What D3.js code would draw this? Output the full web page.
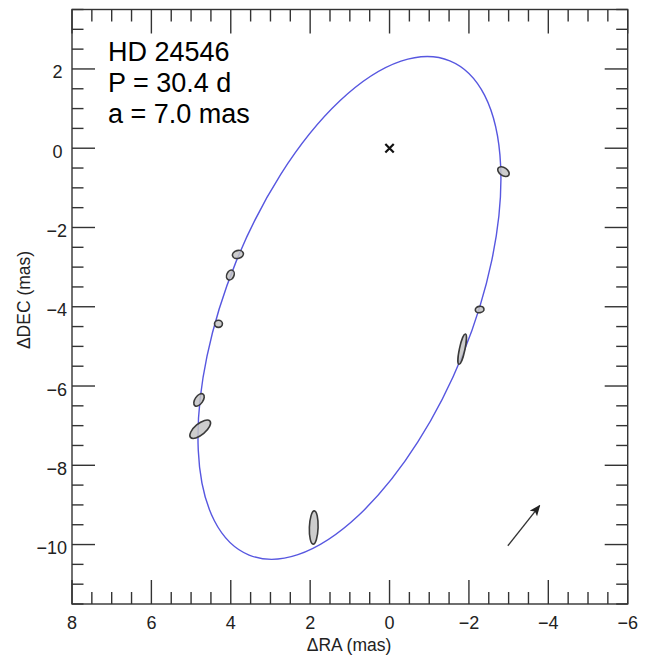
<!DOCTYPE html>
<html>
<head>
<meta charset="utf-8">
<script src="https://cdn.jsdelivr.net/npm/d3@7"></script>
<style>
  html, body { margin: 0; padding: 0; background: #fff; }
  svg { display: block; }
  text { font-family: "Liberation Sans", Arial, sans-serif; }
</style>
</head>
<body>
<svg id="chart" width="646" height="659"></svg>
<script>
// Relative astrometric orbit of HD 24546 (offsets in milliarcseconds)

// Axis ticks
const raTicks = [8, 6, 4, 2, 0, -2, -4, -6];
const decTicks = [2, 0, -2, -4, -6, -8, -10];

// Labels printed in the upper-left corner
const infoLines = ["HD 24546", "P = 30.4 d", "a = 7.0 mas"];

// Fitted apparent orbit (projected ellipse): centre, semi-axes (mas), PA of major axis (deg E of N)
const orbitCentreRA = 1.01;
const orbitCentreDEC = -4.03;
const orbitSemiMajor = 6.72;
const orbitSemiMinor = 3.09;
const orbitPA = 157.9;

// Measured positions with error ellipses
const obsRA    = [-2.87, -2.27, -1.83,  1.91,  4.77,  4.80,  4.31,  4.01,  3.82];
const obsDEC   = [-0.59, -4.07, -5.07, -9.57, -7.09, -6.35, -4.43, -3.20, -2.68];
const errMajor = [ 0.16,  0.11,  0.39,  0.42,  0.32,  0.18,  0.10,  0.13,  0.14];
const errMinor = [ 0.10,  0.08,  0.07,  0.11,  0.14,  0.10,  0.09,  0.09,  0.10];
const errPA    = [   55,   100,   168,   178,   130,   145,    90,   155,   105];

// Direction-of-motion arrow
const arrowFrom = [-2.98, -10.03];
const arrowTo   = [-3.78, -9.02];

const svg = d3.select("#chart");
const plotL = 72, plotR = 627.7, plotT = 9.5, plotB = 604;

const x = d3.scaleLinear().domain([8, -6]).range([plotL, plotR]);
const y = d3.scaleLinear().domain([-11.5, 3.5]).range([plotB, plotT]);
const kx = Math.abs(x(1) - x(0));
const ky = Math.abs(y(1) - y(0));

const axisColor = "#333";

// Minor ticks every 0.5 mas, majors at labelled values
const raMinor = d3.range(-6, 8.001, 0.5);
const decMinor = d3.range(-11.5, 3.501, 0.5);

const gAx = svg.append("g").attr("stroke", axisColor).attr("stroke-width", 1.4).attr("fill", "none");

function isMajor(v, list) { return list.some(t => Math.abs(t - v) < 1e-6); }

// bottom and top ticks
raMinor.forEach(v => {
  const len = isMajor(v, raTicks) ? 24 : 12;
  const px = x(v);
  gAx.append("line").attr("x1", px).attr("x2", px).attr("y1", plotB).attr("y2", plotB - len);
  gAx.append("line").attr("x1", px).attr("x2", px).attr("y1", plotT).attr("y2", plotT + len);
});
// left and right ticks
decMinor.forEach(v => {
  const len = isMajor(v, decTicks) ? 23 : 11.5;
  const py = y(v);
  gAx.append("line").attr("x1", plotL).attr("x2", plotL + len).attr("y1", py).attr("y2", py);
  gAx.append("line").attr("x1", plotR).attr("x2", plotR - len).attr("y1", py).attr("y2", py);
});
// frame
gAx.append("rect").attr("x", plotL).attr("y", plotT)
  .attr("width", plotR - plotL).attr("height", plotB - plotT);

const fmt = d3.format("d");

// tick labels
svg.append("g").selectAll("text").data(raTicks).join("text")
  .attr("x", d => x(d)).attr("y", 629)
  .attr("text-anchor", "middle")
  .attr("font-size", 18).attr("fill", "#222")
  .text(d => fmt(d));

svg.append("g").selectAll("text").data(decTicks).join("text")
  .attr("x", d => d < 0 ? 67 : 62.5).attr("y", d => y(d) + 9.5)
  .attr("text-anchor", "end")
  .attr("font-size", 18).attr("fill", "#222")
  .text(d => fmt(d));

// axis titles
svg.append("text").attr("x", 349).attr("y", 651)
  .attr("text-anchor", "middle").attr("font-size", 17.5).attr("fill", "#222")
  .text("ΔRA (mas)");
svg.append("text")
  .attr("transform", "translate(30,300) rotate(-90)")
  .attr("text-anchor", "middle").attr("font-size", 17.5).attr("fill", "#222")
  .text("ΔDEC (mas)");

// apparent orbit
function rotFromPA(pa) { return -(pa + 90); }
svg.append("ellipse")
  .attr("cx", 0).attr("cy", 0)
  .attr("rx", orbitSemiMajor * kx).attr("ry", orbitSemiMinor * ky)
  .attr("transform", `translate(${x(orbitCentreRA)},${y(orbitCentreDEC)}) rotate(${rotFromPA(orbitPA)})`)
  .attr("fill", "none").attr("stroke", "#5757e0").attr("stroke-width", 1.4);

// error ellipses of measurements
const obs = obsRA.map((ra, i) => ({ ra, dec: obsDEC[i], a: errMajor[i], b: errMinor[i], pa: errPA[i] }));
svg.append("g").selectAll("ellipse").data(obs).join("ellipse")
  .attr("cx", 0).attr("cy", 0)
  .attr("rx", d => d.a * kx).attr("ry", d => d.b * ky)
  .attr("transform", d => `translate(${x(d.ra)},${y(d.dec)}) rotate(${rotFromPA(d.pa)})`)
  .attr("fill", "#c4c4c4").attr("fill-opacity", 0.85)
  .attr("stroke", "#3a3a3a").attr("stroke-width", 1.6);

// primary star marker at the origin
const cx0 = x(0), cy0 = y(0), h = 4.2;
svg.append("path")
  .attr("d", `M${cx0 - h},${cy0 - h}L${cx0 + h},${cy0 + h}M${cx0 - h},${cy0 + h}L${cx0 + h},${cy0 - h}`)
  .attr("stroke", "#111").attr("stroke-width", 2.2).attr("fill", "none");

// motion arrow
const defs = svg.append("defs");
defs.append("marker").attr("id", "head")
  .attr("viewBox", "0 0 10 10").attr("refX", 9).attr("refY", 5)
  .attr("markerWidth", 11).attr("markerHeight", 11)
  .attr("markerUnits", "userSpaceOnUse")
  .attr("orient", "auto")
  .append("path").attr("d", "M0,0.8L10,5L0,9.2L2.2,5Z").attr("fill", "#222");
svg.append("line")
  .attr("x1", x(arrowFrom[0])).attr("y1", y(arrowFrom[1]))
  .attr("x2", x(arrowTo[0])).attr("y2", y(arrowTo[1]))
  .attr("stroke", "#333").attr("stroke-width", 1.3)
  .attr("marker-end", "url(#head)");

// info text
svg.append("g").selectAll("text").data(infoLines).join("text")
  .attr("x", 108).attr("y", (d, i) => 61 + i * 31)
  .attr("font-size", 27).attr("fill", "#000")
  .text(d => d);
</script>
</body>
</html>
